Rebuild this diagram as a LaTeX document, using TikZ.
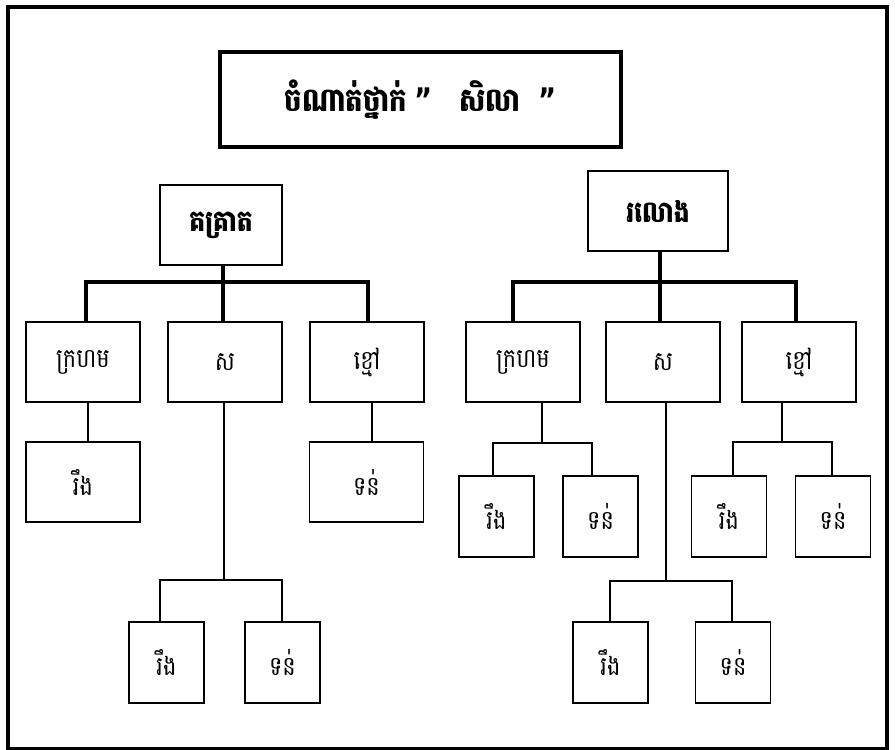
\documentclass[tikz,border=0pt]{standalone}
\usepackage{fontspec}
\usepackage{graphicx}
\newfontfamily\kh[Script=Khmer]{Battambang}
\newfontfamily\qf{DejaVu Sans}
\newcommand\kt[1]{\scalebox{1}[1.18]{#1}}
\begin{document}
\begin{tikzpicture}[x=1pt,y=-1pt,
  box/.style={draw, line width=1.8pt, minimum width=114pt, minimum height=80pt, inner sep=0pt, font=\kh\fontsize{22.5}{26}\selectfont},
  leaf/.style={box, minimum width=75pt, minimum height=81pt},
  rootbox/.style={box, font=\kh\bfseries\fontsize{25}{29}\selectfont},
  titlebox/.style={draw, line width=3.5pt, minimum width=401pt, minimum height=95pt, inner sep=0pt, font=\kh\bfseries\fontsize{27.5}{31}\selectfont},
  bigline/.style={line width=4.5pt, line join=miter},
  smallline/.style={line width=1.8pt, line join=miter}]
\useasboundingbox (0,0) rectangle (895,750);
\draw[line width=3.5pt] (8,7) rectangle (887,748.5);

\node[titlebox] (title) at (420.5,99.5) {\kt{ចំណាត់ថ្នាក់\hspace{8pt}{\qf\bfseries ”}\hspace{26pt}សិលា\hspace{18pt}{\qf\bfseries ”}}};

% left tree
\node[rootbox, minimum width=122pt] (Lroot) at (221,225) {\kt{គគ្រាត}};
\node[box] (Lred) at (83,362) {\kt{ក្រហម}};
\node[box] (Lwhite) at (225,362) {\kt{ស}};
\node[box] (Lblack) at (367,362) {\kt{ខ្មៅ}};
\node[box] (LredH) at (83,482) {\kt{រឹង}};
\node[box] (LblackS) at (366.5,482) {\kt{ទន់}};
\node[leaf] (LwhiteH) at (166.5,662.5) {\kt{រឹង}};
\node[leaf] (LwhiteS) at (282.5,662.5) {\kt{ទន់}};

\coordinate (Lj) at (223,282);
\coordinate (Lj1) at (86,282);
\coordinate (Lj3) at (368,282);
\draw[bigline] (Lroot.south -| Lj) -- (Lj |- Lwhite.north);
\draw[bigline] (Lj1 |- Lred.north) -- (Lj1) -- (Lj3) -- (Lj3 |- Lblack.north);

\coordinate (Lr) at (88,402);
\draw[smallline] (Lr) -- (Lr |- LredH.north);
\coordinate (Lb) at (372,402);
\draw[smallline] (Lb) -- (Lb |- LblackS.north);
\coordinate (Lw) at (224,580);
\coordinate (Lw1) at (160,580);
\coordinate (Lw2) at (282,580);
\draw[smallline] (Lwhite.south -| Lw) -- (Lw);
\draw[smallline] (Lw1 |- LwhiteH.north) -- (Lw1) -- (Lw2) -- (Lw2 |- LwhiteS.north);

% right tree
\node[rootbox, minimum width=140pt] (Rroot) at (658,211) {\kt{រលោង}};
\node[box] (Rred) at (523,362) {\kt{ក្រហម}};
\node[box] (Rwhite) at (663,362) {\kt{ស}};
\node[box] (Rblack) at (799,362) {\kt{ខ្មៅ}};
\node[leaf] (RredH) at (496.5,516.5) {\kt{រឹង}};
\node[leaf] (RredS) at (600.5,516.5) {\kt{ទន់}};
\node[leaf] (RwhiteH) at (610.5,662.5) {\kt{រឹង}};
\node[leaf] (RwhiteS) at (733,662.5) {\kt{ទន់}};
\node[leaf] (RblackH) at (729,516.5) {\kt{រឹង}};
\node[leaf] (RblackS) at (833,516.5) {\kt{ទន់}};

\coordinate (Rj) at (660,282);
\coordinate (Rj1) at (513,282);
\coordinate (Rj3) at (796,282);
\draw[bigline] (Rroot.south -| Rj) -- (Rj |- Rwhite.north);
\draw[bigline] (Rj1 |- Rred.north) -- (Rj1) -- (Rj3) -- (Rj3 |- Rblack.north);

\coordinate (Rr) at (542,443);
\coordinate (Rr1) at (493,443);
\coordinate (Rr2) at (592,443);
\draw[smallline] (Rred.south -| Rr) -- (Rr);
\draw[smallline] (Rr1 |- RredH.north) -- (Rr1) -- (Rr2) -- (Rr2 |- RredS.north);

\coordinate (Rw) at (666,581);
\coordinate (Rw1) at (610,581);
\coordinate (Rw2) at (732,581);
\draw[smallline] (Rwhite.south -| Rw) -- (Rw);
\draw[smallline] (Rw1 |- RwhiteH.north) -- (Rw1) -- (Rw2) -- (Rw2 |- RwhiteS.north);

\coordinate (Rb) at (782,442);
\coordinate (Rb1) at (733,442);
\coordinate (Rb2) at (832,442);
\draw[smallline] (Rblack.south -| Rb) -- (Rb);
\draw[smallline] (Rb1 |- RblackH.north) -- (Rb1) -- (Rb2) -- (Rb2 |- RblackS.north);
\end{tikzpicture}
\end{document}
